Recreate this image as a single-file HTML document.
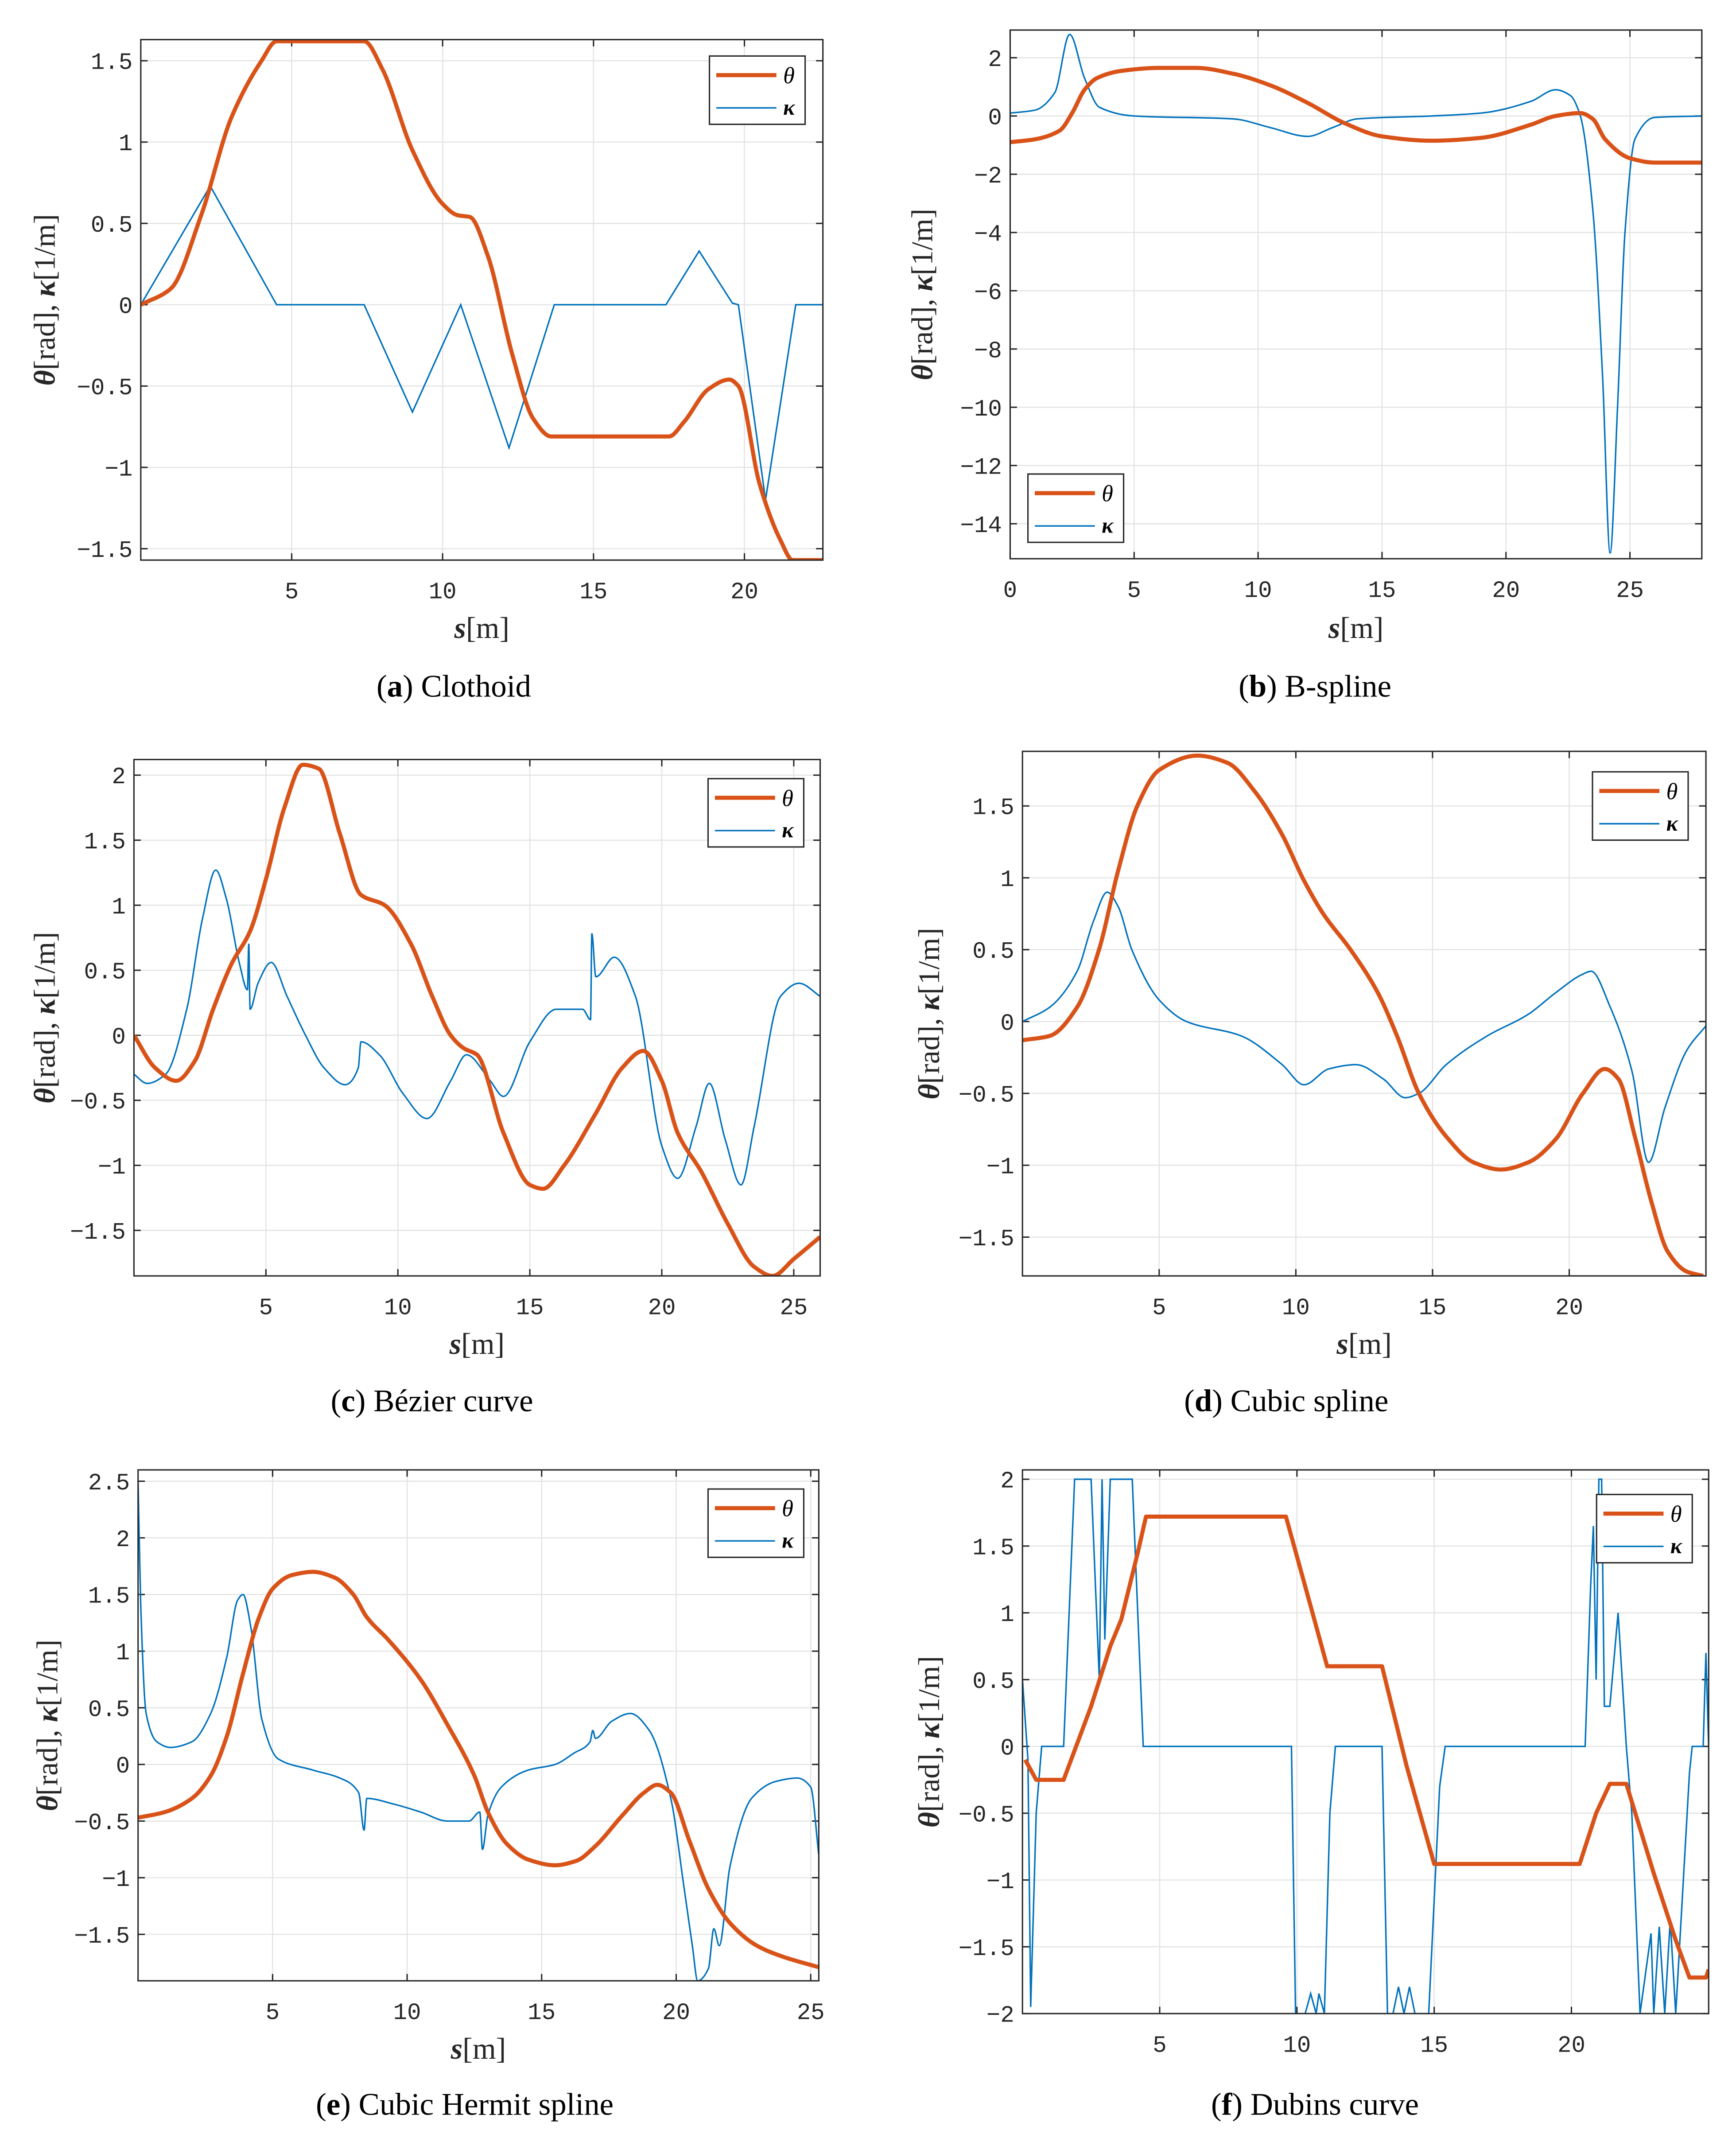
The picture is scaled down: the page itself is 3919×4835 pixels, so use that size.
<!DOCTYPE html>
<html><head><meta charset="utf-8"><style>
html,body{margin:0;padding:0;background:#fff;}
svg{display:block;}
</style></head><body>
<svg id="fig" xmlns="http://www.w3.org/2000/svg" width="3919" height="4835" viewBox="0 0 1270 1568" preserveAspectRatio="none"></svg>
<script>
// ---- data ----
const aThetaS=[0,1,2,3,4,4.5,7.4,8,9,10,10.5,10.9,11.5,12.3,13,13.6,17.5,18,18.8,19.5,19.8,20.5,21.2,21.6,22.6];
const aThetaV=[0,0.1,0.55,1.15,1.5,1.62,1.62,1.45,0.95,0.62,0.55,0.54,0.3,-0.3,-0.7,-0.81,-0.81,-0.72,-0.52,-0.46,-0.5,-1.1,-1.45,-1.57,-1.57];
const aKapS=[0,2.3,4.5,7.4,9,10.6,12.2,13.7,17.4,18.5,19.6,19.8,20.7,21.7,22.6];
const aKapV=[0,0.73,0,0,-0.66,0,-0.88,0,0,0.33,0.01,0,-1.2,0,0];

const bThetaS=[0,1,2,2.5,3,3.5,4.5,6,7.5,9,10.5,12,13.5,15,17,19,21,22,23,23.5,24,25,26,28];
const bThetaV=[-0.9,-0.8,-0.5,0.1,0.9,1.3,1.55,1.65,1.65,1.45,1.05,0.45,-0.25,-0.7,-0.85,-0.75,-0.3,0,0.1,-0.1,-0.8,-1.45,-1.6,-1.6];
const bKapS=[0,1,1.8,2.4,3,3.6,5,9,10.5,12,13,14,17,19,21,22,22.6,23,23.5,23.9,24.2,24.5,24.8,25.2,26,28];
const bKapV=[0.1,0.2,0.8,2.8,1.3,0.3,0,-0.1,-0.4,-0.7,-0.4,-0.1,0,0.1,0.5,0.9,0.7,0,-3.2,-9,-15,-10,-4,-0.8,-0.05,0];

const cThetaS=[0,0.8,1.6,2.3,3,3.7,4.4,5,5.7,6.4,7,7.8,8.6,9.5,10.5,11.3,12,12.5,13,14,15,15.5,16.3,17.5,18.5,19.3,20,20.6,21.5,22.5,23.5,24.2,25,26];
const cThetaV=[0,-0.25,-0.35,-0.2,0.2,0.55,0.8,1.2,1.75,2.08,2.05,1.55,1.08,1.0,0.7,0.3,0,-0.1,-0.15,-0.75,-1.15,-1.18,-1.0,-0.6,-0.25,-0.12,-0.35,-0.75,-1.05,-1.45,-1.78,-1.85,-1.72,-1.55];
const cKapS=[0,0.5,1.2,2,2.6,3.1,3.5,4,4.3,4.35,4.4,4.7,5.2,5.8,6.5,7.2,8,8.5,8.6,9.3,10.2,11.1,12,12.6,13.5,14,15,16,17,17.3,17.35,17.5,18.2,19,20,20.6,21.3,21.8,22.4,23,23.5,24.5,25.2,26];
const cKapV=[-0.3,-0.37,-0.3,0.2,0.9,1.27,1.05,0.55,0.35,0.7,0.2,0.4,0.56,0.3,0,-0.25,-0.38,-0.25,-0.05,-0.15,-0.45,-0.64,-0.35,-0.15,-0.35,-0.47,-0.05,0.2,0.2,0.12,0.78,0.45,0.6,0.3,-0.85,-1.1,-0.7,-0.37,-0.8,-1.15,-0.7,0.3,0.4,0.3];

const dThetaS=[0,1,2,2.8,3.5,4.2,5,6.4,7.5,8.5,9.5,10.3,11,12,13,13.7,14.5,15.5,16.5,17.5,18.5,19.5,20.5,21.3,21.8,22.4,23,23.6,24.3,24.9];
const dThetaV=[-0.13,-0.1,0.1,0.5,1.05,1.5,1.75,1.85,1.8,1.6,1.3,0.98,0.75,0.5,0.2,-0.1,-0.5,-0.8,-0.98,-1.03,-0.98,-0.82,-0.5,-0.33,-0.4,-0.8,-1.25,-1.6,-1.74,-1.77];
const dKapS=[0,1,2,2.6,3.1,3.5,4,5,6,8,9.5,10.3,11.2,12.2,13.2,14,14.5,15.5,17,18.5,19.5,20.5,20.8,21.5,22.3,22.9,23.5,24.3,25];
const dKapV=[0,0.1,0.35,0.7,0.9,0.8,0.5,0.15,0,-0.1,-0.3,-0.44,-0.33,-0.3,-0.4,-0.53,-0.5,-0.3,-0.1,0.05,0.2,0.33,0.35,0.1,-0.35,-0.98,-0.6,-0.2,-0.03];

const eThetaS=[0,1,2,2.7,3.3,3.9,4.5,5,5.7,6.5,7.3,8,8.5,9.3,10.5,11.5,12.5,13,13.7,14.5,15.5,16.3,17,18,18.8,19.3,19.8,20.5,21.2,22,23,24,25.3];
const eThetaV=[-0.47,-0.42,-0.3,-0.1,0.25,0.8,1.3,1.55,1.67,1.7,1.65,1.5,1.3,1.1,0.75,0.35,-0.1,-0.42,-0.7,-0.84,-0.89,-0.85,-0.72,-0.45,-0.25,-0.18,-0.25,-0.68,-1.1,-1.4,-1.6,-1.7,-1.79];
const eKapS=[0,0.1,0.3,0.7,1.2,2,2.7,3.3,3.7,3.9,4.2,4.6,5.2,6.5,7.5,8.2,8.4,8.5,9.5,10.5,11.5,12.3,12.7,12.8,13,13.5,14.5,15.5,16.2,16.8,16.9,17,17.6,18.3,19,19.8,20.3,20.6,20.8,21.2,21.4,21.6,22,22.8,23.7,24.5,25,25.3];
const eKapV=[2.5,1.4,0.45,0.2,0.15,0.2,0.45,0.95,1.45,1.5,1.2,0.4,0.05,-0.05,-0.12,-0.25,-0.58,-0.3,-0.35,-0.42,-0.5,-0.5,-0.42,-0.75,-0.45,-0.2,-0.05,0,0.1,0.2,0.3,0.23,0.38,0.45,0.3,-0.3,-1.1,-1.6,-1.91,-1.8,-1.45,-1.6,-0.9,-0.3,-0.15,-0.12,-0.2,-0.8];

const fThetaS=[0.1,0.5,1.5,2.5,3.2,3.6,4.2,4.5,9.6,10.5,11.1,13.1,14,15,20.3,20.9,21.4,22,23,23.8,24.3,24.9,25];
const fThetaV=[-0.1,-0.25,-0.25,0.3,0.75,0.95,1.45,1.72,1.72,1.05,0.6,0.6,-0.15,-0.88,-0.88,-0.5,-0.28,-0.28,-0.95,-1.45,-1.73,-1.73,-1.67];
const fKapS=[0,0.2,0.3,0.5,0.7,1.5,1.9,2.5,2.8,2.9,3.0,3.2,4,4.3,4.4,9.8,9.95,10.3,10.5,10.7,10.8,11,11.2,11.4,13.1,13.3,13.5,13.7,13.9,14.1,14.3,14.8,15.2,15.4,20.5,20.7,20.8,20.9,21,21.1,21.2,21.4,21.7,22.0,22.2,22.5,22.9,23.0,23.2,23.4,23.6,23.8,24.3,24.4,24.8,24.9,25];
const fKapV=[0.5,-0.1,-1.95,-0.5,0,0,2,2,0.5,2,0.8,2,2,0.5,0,0,-2,-2,-1.85,-2,-1.85,-2,-0.5,0,0,-2,-2,-1.8,-2,-1.8,-2,-2,-0.3,0,0,1.2,1.65,0.5,2,2,0.3,0.3,1.0,0,-0.5,-2,-1.4,-2,-1.35,-2,-1.3,-2,-0.2,0,0,0.7,0];

const aXTicks=[5,10,15,20], aYTicks=[1.5,1,0.5,0,-0.5,-1,-1.5];
const bXTicks=[0,5,10,15,20,25], bYTicks=[2,0,-2,-4,-6,-8,-10,-12,-14];
const cXTicks=[5,10,15,20,25], cYTicks=[2,1.5,1,0.5,0,-0.5,-1,-1.5];
const dXTicks=[5,10,15,20], dYTicks=[1.5,1,0.5,0,-0.5,-1,-1.5];
const eXTicks=[5,10,15,20,25], eYTicks=[2.5,2,1.5,1,0.5,0,-0.5,-1,-1.5];
const fXTicks=[5,10,15,20], fYTicks=[2,1.5,1,0.5,0,-0.5,-1,-1.5,-2];
const captions=["Clothoid","B-spline","Bézier curve","Cubic spline","Cubic Hermit spline","Dubins curve"];

// ---- layout ----
const NS="http://www.w3.org/2000/svg";
const svg=document.getElementById('fig');
function mk(tag,attrs,parent){const e=document.createElementNS(NS,tag);for(const k in attrs)e.setAttribute(k,attrs[k]);(parent||svg).appendChild(e);return e;}
// monotone cubic (Fritsch-Carlson) path through screen points
function monoPath(pts){
 const n=pts.length;
 if(n<3)return 'M'+pts.map(p=>p.join(',')).join('L');
 const dx=[],m=[];
 for(let i=0;i<n-1;i++){dx[i]=pts[i+1][0]-pts[i][0];m[i]=dx[i]===0?0:(pts[i+1][1]-pts[i][1])/dx[i];}
 const t=[m[0]];
 for(let i=1;i<n-1;i++){
  if(m[i-1]*m[i]<=0)t[i]=0;
  else{const w1=2*dx[i]+dx[i-1],w2=dx[i]+2*dx[i-1];t[i]=(w1+w2)/(w1/m[i-1]+w2/m[i]);}
 }
 t[n-1]=m[n-2];
 let d='M'+pts[0][0]+','+pts[0][1];
 for(let i=0;i<n-1;i++){
  const h=dx[i]/3;
  d+=' C'+(pts[i][0]+h)+','+(pts[i][1]+t[i]*h)+' '+(pts[i+1][0]-h)+','+(pts[i+1][1]-t[i+1]*h)+' '+pts[i+1][0]+','+pts[i+1][1];
 }
 return d;
}
const linPath=pts=>'M'+pts.map(q=>q.join(',')).join('L');
const panels=[
 {id:'a',L:103,R:602,T:29,B:410,x0:0,x1:22.6,y0:-1.57,y1:1.63,ts:aThetaS,tv:aThetaV,ks:aKapS,kv:aKapV,xt:aXTicks,yt:aYTicks,leg:[519,41],cap:502,xl:460,yl:33,lab:'a',ksm:false,tsm:true,xlab:true},
 {id:'b',L:739,R:1245,T:22,B:409,x0:0,x1:27.9,y0:-15.2,y1:2.95,ts:bThetaS,tv:bThetaV,ks:bKapS,kv:bKapV,xt:bXTicks,yt:bYTicks,leg:[752,347],cap:502,xl:460,yl:675,lab:'b',ksm:true,tsm:true,xlab:true},
 {id:'c',L:98,R:600,T:556,B:934,x0:0,x1:26,y0:-1.85,y1:2.12,ts:cThetaS,tv:cThetaV,ks:cKapS,kv:cKapV,xt:cXTicks,yt:cYTicks,leg:[518,570],cap:1025,xl:984,yl:33,lab:'c',ksm:true,tsm:true,xlab:true},
 {id:'d',L:748,R:1248,T:550,B:934,x0:0,x1:25,y0:-1.77,y1:1.88,ts:dThetaS,tv:dThetaV,ks:dKapS,kv:dKapV,xt:dXTicks,yt:dYTicks,leg:[1165,565],cap:1025,xl:984,yl:680,lab:'d',ksm:true,tsm:true,xlab:true},
 {id:'e',L:101,R:599,T:1076,B:1450,x0:0,x1:25.3,y0:-1.91,y1:2.6,ts:eThetaS,tv:eThetaV,ks:eKapS,kv:eKapV,xt:eXTicks,yt:eYTicks,leg:[518,1090],cap:1540,xl:1500,yl:35,lab:'e',ksm:true,tsm:true,xlab:true},
 {id:'f',L:748,R:1250,T:1076,B:1474,x0:0,x1:25,y0:-2,y1:2.07,ts:fThetaS,tv:fThetaV,ks:fKapS,kv:fKapV,xt:fXTicks,yt:fYTicks,leg:[1168,1094],cap:1540,xl:1500,yl:680,lab:'f',ksm:false,tsm:false,xlab:false}
];
const capCx=[332,962,316,941,340,962];
panels.forEach((p,i)=>{
 const g=mk('g',{});
 
 
 const X=v=>p.L+(v-p.x0)/(p.x1-p.x0)*(p.R-p.L);
 const Y=v=>p.B-(v-p.y0)/(p.y1-p.y0)*(p.B-p.T);
 const clipId='clip'+p.id;
 const cp=mk('clipPath',{id:clipId},g);mk('rect',{x:p.L,y:p.T,width:p.R-p.L,height:p.B-p.T},cp);
 p.xt.forEach(t=>{const l=mk('line',{x1:X(t),x2:X(t),y1:p.T,y2:p.B,stroke:'#e3e3e3','stroke-width':0.8},g);});
 p.yt.forEach(t=>{const l=mk('line',{x1:p.L,x2:p.R,y1:Y(t),y2:Y(t),stroke:'#e3e3e3','stroke-width':0.8},g);});
 p.xt.forEach(t=>{
  mk('line',{x1:X(t),x2:X(t),y1:p.B,y2:p.B-5,stroke:'#262626','stroke-width':1},g);
  mk('line',{x1:X(t),x2:X(t),y1:p.T,y2:p.T+5,stroke:'#262626','stroke-width':1},g);
  const tx=mk('text',{x:X(t),y:p.B+28,'text-anchor':'middle','font-family':'Liberation Mono, monospace','font-size':17,fill:'#262626'},g);tx.textContent=String(t);
  
 });
 p.yt.forEach(t=>{
  mk('line',{x1:p.L,x2:p.L+5,y1:Y(t),y2:Y(t),stroke:'#262626','stroke-width':1},g);
  mk('line',{x1:p.R,x2:p.R-5,y1:Y(t),y2:Y(t),stroke:'#262626','stroke-width':1},g);
  const tx=mk('text',{x:p.L-6,y:Y(t)+6,'text-anchor':'end','font-family':'Liberation Mono, monospace','font-size':17,fill:'#262626'},g);tx.textContent=String(t).replace('-','\u2212');
  
 });
 const kpts=p.ks.map((s,j)=>[X(s),Y(p.kv[j])]);
 const pk=mk('path',{d:p.ksm?monoPath(kpts):linPath(kpts),fill:'none',stroke:'#0072bd','stroke-width':1.1,'clip-path':'url(#'+clipId+')'},g);
 
 const tpts=p.ts.map((s,j)=>[X(s),Y(p.tv[j])]);
 const pt=mk('path',{d:p.tsm?monoPath(tpts):linPath(tpts),fill:'none',stroke:'#d95319','stroke-width':3,'stroke-linejoin':'round','clip-path':'url(#'+clipId+')'},g);
 
 const box=mk('rect',{x:p.L,y:p.T,width:p.R-p.L,height:p.B-p.T,fill:'none',stroke:'#262626','stroke-width':1},g);
 
 const [lx,ly]=p.leg;
 const lg=mk('g',{},g);
 
 mk('rect',{x:lx,y:ly,width:70,height:50,fill:'#fff',stroke:'#262626','stroke-width':1},lg);
 mk('line',{x1:lx+5,x2:lx+49,y1:ly+14,y2:ly+14,stroke:'#d95319','stroke-width':3},lg);
 mk('line',{x1:lx+5,x2:lx+49,y1:ly+38,y2:ly+38,stroke:'#0072bd','stroke-width':1.1},lg);
 const t1=mk('text',{x:lx+54,y:ly+20,'font-family':'Liberation Serif, serif','font-style':'italic','font-size':17,fill:'#000'},lg);t1.textContent='θ';
 const t2=mk('text',{x:lx+54,y:ly+43,'font-family':'Liberation Serif, serif','font-style':'italic','font-weight':'bold','font-size':16,fill:'#000'},lg);t2.textContent='κ';
 if(p.xlab){
  const xl=mk('text',{x:(p.L+p.R)/2,y:p.xl+7,'text-anchor':'middle','font-family':'Liberation Serif, serif','font-size':22,fill:'#262626'},g);
  xl.innerHTML='<tspan font-style="italic" font-weight="bold">s</tspan>[m]';
  
 }
 const cy=(p.T+p.B)/2;
 const yl=mk('text',{x:p.yl,y:cy,'text-anchor':'middle','font-family':'Liberation Serif, serif','font-size':22,fill:'#262626',transform:'rotate(-90 '+(p.yl)+' '+cy+')'},g);
 yl.innerHTML='<tspan font-style="italic" font-weight="bold">θ</tspan>[rad], <tspan font-style="italic" font-weight="bold">κ</tspan>[1/m]';
 yl.setAttribute('dy','7');
 
 const cap=mk('text',{x:capCx[i],y:p.cap+8,'text-anchor':'middle','font-family':'Liberation Serif, serif','font-size':23,fill:'#000'},g);
 cap.innerHTML='(<tspan font-weight="bold">'+p.lab+'</tspan>) '+captions[i];
 
});
</script>
</body></html>
